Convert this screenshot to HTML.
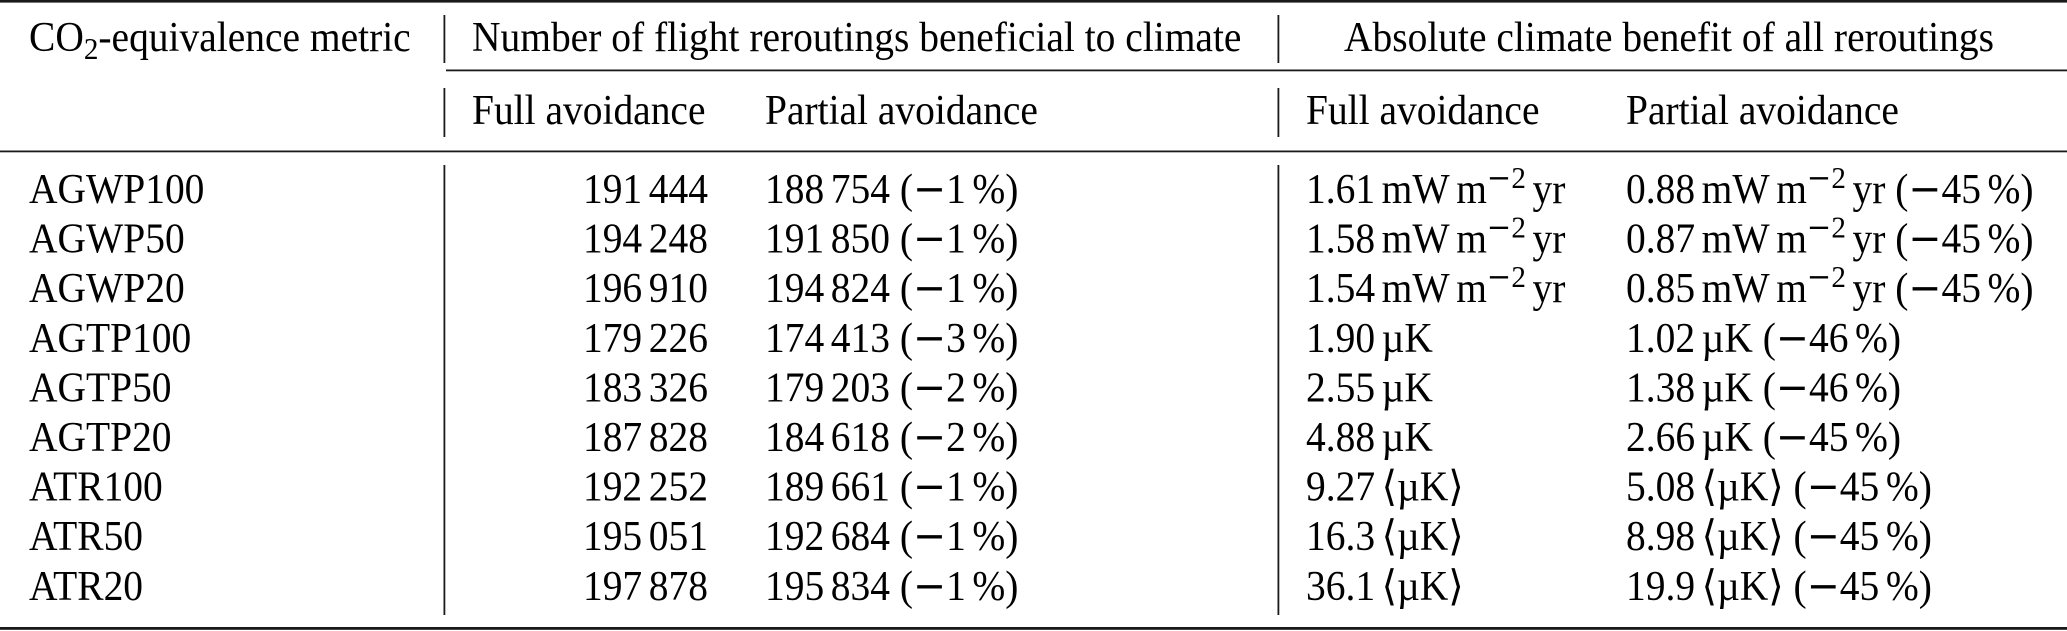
<!DOCTYPE html>
<html>
<head>
<meta charset="utf-8">
<style>
  html, body { margin: 0; padding: 0; background: #fff; }
  body { width: 2067px; height: 631px; overflow: hidden; }
  svg { display: block; }
  text { fill: #000; }
  .m { font-family: "DejaVu Serif", serif; }
</style>
</head>
<body>
<svg width="2067" height="631" viewBox="0 0 2067 631" xmlns="http://www.w3.org/2000/svg">
  <!-- rules -->
  <rect x="0" y="0" width="2067" height="2.6" fill="#1a1a1a"/>
  <rect x="446" y="69.5" width="1621" height="1.8" fill="#1a1a1a"/>
  <rect x="0" y="150.5" width="2067" height="1.8" fill="#1a1a1a"/>
  <rect x="0" y="627" width="2067" height="2.8" fill="#1a1a1a"/>

  <!-- vertical bars -->
  <rect x="443.5" y="15" width="1.8" height="48" fill="#1a1a1a"/>
  <rect x="443.5" y="88" width="1.8" height="49" fill="#1a1a1a"/>
  <rect x="443.5" y="165" width="1.8" height="450" fill="#1a1a1a"/>
  <rect x="1277.5" y="15" width="1.8" height="48" fill="#1a1a1a"/>
  <rect x="1277.5" y="88" width="1.8" height="49" fill="#1a1a1a"/>
  <rect x="1277.5" y="165" width="1.8" height="450" fill="#1a1a1a"/>

  <g transform="scale(0.94 1)" font-family="'Liberation Serif', 'DejaVu Serif', serif" font-size="42">
  <!-- header row 1 -->
  <text x="30.85" y="51">CO<tspan dy="8" font-size="31">2</tspan><tspan dy="-8">-equivalence metric</tspan></text>
  <text x="502.13" y="51">Number of flight reroutings beneficial to climate</text>
  <text x="1429.79" y="51">Absolute climate benefit of all reroutings</text>

  <!-- header row 2 -->
  <text x="502.13" y="124">Full avoidance</text>
  <text x="813.83" y="124">Partial avoidance</text>
  <text x="1389.36" y="124">Full avoidance</text>
  <text x="1729.79" y="124">Partial avoidance</text>

  <!-- column 1 -->
  <text x="30.85" y="203">AGWP100</text>
  <text x="30.85" y="252.6">AGWP50</text>
  <text x="30.85" y="302.2">AGWP20</text>
  <text x="30.85" y="351.8">AGTP100</text>
  <text x="30.85" y="401.4">AGTP50</text>
  <text x="30.85" y="451">AGTP20</text>
  <text x="30.85" y="500.6">ATR100</text>
  <text x="30.85" y="550.2">ATR50</text>
  <text x="30.85" y="599.8">ATR20</text>

  <!-- column 2 -->
  <text x="620.19" y="203">191<tspan dx="7">444</tspan></text>
  <text x="620.19" y="252.6">194<tspan dx="7">248</tspan></text>
  <text x="620.19" y="302.2">196<tspan dx="7">910</tspan></text>
  <text x="620.19" y="351.8">179<tspan dx="7">226</tspan></text>
  <text x="620.19" y="401.4">183<tspan dx="7">326</tspan></text>
  <text x="620.19" y="451">187<tspan dx="7">828</tspan></text>
  <text x="620.19" y="500.6">192<tspan dx="7">252</tspan></text>
  <text x="620.19" y="550.2">195<tspan dx="7">051</tspan></text>
  <text x="620.19" y="599.8">197<tspan dx="7">878</tspan></text>

  <!-- column 3 -->
  <text x="813.83" y="203">188<tspan dx="7">754 (</tspan><tspan class="m">−</tspan>1<tspan dx="7">%)</tspan></text>
  <text x="813.83" y="252.6">191<tspan dx="7">850 (</tspan><tspan class="m">−</tspan>1<tspan dx="7">%)</tspan></text>
  <text x="813.83" y="302.2">194<tspan dx="7">824 (</tspan><tspan class="m">−</tspan>1<tspan dx="7">%)</tspan></text>
  <text x="813.83" y="351.8">174<tspan dx="7">413 (</tspan><tspan class="m">−</tspan>3<tspan dx="7">%)</tspan></text>
  <text x="813.83" y="401.4">179<tspan dx="7">203 (</tspan><tspan class="m">−</tspan>2<tspan dx="7">%)</tspan></text>
  <text x="813.83" y="451">184<tspan dx="7">618 (</tspan><tspan class="m">−</tspan>2<tspan dx="7">%)</tspan></text>
  <text x="813.83" y="500.6">189<tspan dx="7">661 (</tspan><tspan class="m">−</tspan>1<tspan dx="7">%)</tspan></text>
  <text x="813.83" y="550.2">192<tspan dx="7">684 (</tspan><tspan class="m">−</tspan>1<tspan dx="7">%)</tspan></text>
  <text x="813.83" y="599.8">195<tspan dx="7">834 (</tspan><tspan class="m">−</tspan>1<tspan dx="7">%)</tspan></text>

  <!-- column 4 -->
  <text x="1389.36" y="203">1.61<tspan dx="7">mW</tspan><tspan dx="7">m</tspan><tspan class="m" dy="-15" font-size="31">−</tspan><tspan font-size="31">2</tspan><tspan dy="15" dx="7">yr</tspan></text>
  <text x="1389.36" y="252.6">1.58<tspan dx="7">mW</tspan><tspan dx="7">m</tspan><tspan class="m" dy="-15" font-size="31">−</tspan><tspan font-size="31">2</tspan><tspan dy="15" dx="7">yr</tspan></text>
  <text x="1389.36" y="302.2">1.54<tspan dx="7">mW</tspan><tspan dx="7">m</tspan><tspan class="m" dy="-15" font-size="31">−</tspan><tspan font-size="31">2</tspan><tspan dy="15" dx="7">yr</tspan></text>
  <text x="1389.36" y="351.8">1.90<tspan dx="7">µK</tspan></text>
  <text x="1389.36" y="401.4">2.55<tspan dx="7">µK</tspan></text>
  <text x="1389.36" y="451">4.88<tspan dx="7">µK</tspan></text>
  <text x="1389.36" y="500.6">9.27<tspan dx="7">⟨µK⟩</tspan></text>
  <text x="1389.36" y="550.2">16.3<tspan dx="7">⟨µK⟩</tspan></text>
  <text x="1389.36" y="599.8">36.1<tspan dx="7">⟨µK⟩</tspan></text>

  <!-- column 5 -->
  <text x="1729.79" y="203">0.88<tspan dx="7">mW</tspan><tspan dx="7">m</tspan><tspan class="m" dy="-15" font-size="31">−</tspan><tspan font-size="31">2</tspan><tspan dy="15" dx="7">yr (</tspan><tspan class="m">−</tspan>45<tspan dx="7">%)</tspan></text>
  <text x="1729.79" y="252.6">0.87<tspan dx="7">mW</tspan><tspan dx="7">m</tspan><tspan class="m" dy="-15" font-size="31">−</tspan><tspan font-size="31">2</tspan><tspan dy="15" dx="7">yr (</tspan><tspan class="m">−</tspan>45<tspan dx="7">%)</tspan></text>
  <text x="1729.79" y="302.2">0.85<tspan dx="7">mW</tspan><tspan dx="7">m</tspan><tspan class="m" dy="-15" font-size="31">−</tspan><tspan font-size="31">2</tspan><tspan dy="15" dx="7">yr (</tspan><tspan class="m">−</tspan>45<tspan dx="7">%)</tspan></text>
  <text x="1729.79" y="351.8">1.02<tspan dx="7">µK (</tspan><tspan class="m">−</tspan>46<tspan dx="7">%)</tspan></text>
  <text x="1729.79" y="401.4">1.38<tspan dx="7">µK (</tspan><tspan class="m">−</tspan>46<tspan dx="7">%)</tspan></text>
  <text x="1729.79" y="451">2.66<tspan dx="7">µK (</tspan><tspan class="m">−</tspan>45<tspan dx="7">%)</tspan></text>
  <text x="1729.79" y="500.6">5.08<tspan dx="7">⟨µK⟩ (</tspan><tspan class="m">−</tspan>45<tspan dx="7">%)</tspan></text>
  <text x="1729.79" y="550.2">8.98<tspan dx="7">⟨µK⟩ (</tspan><tspan class="m">−</tspan>45<tspan dx="7">%)</tspan></text>
  <text x="1729.79" y="599.8">19.9<tspan dx="7">⟨µK⟩ (</tspan><tspan class="m">−</tspan>45<tspan dx="7">%)</tspan></text>
  </g>
</svg>
</body>
</html>
